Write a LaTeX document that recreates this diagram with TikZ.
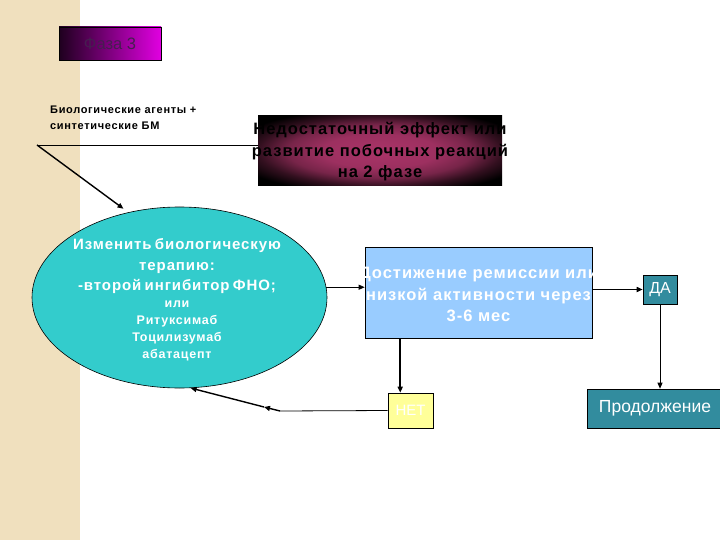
\documentclass[tikz,border=0pt]{standalone}
\usepackage{fontspec}
\setmainfont{Liberation Sans}
\newfontfamily\spaced[LetterSpace=6]{Liberation Sans}
\usetikzlibrary{arrows.meta,shapes.geometric}
\definecolor{beige}{RGB}{240,224,190}
\definecolor{fazatext}{RGB}{70,30,80}
\definecolor{fazaL}{RGB}{30,0,30}
\definecolor{fazaR}{RGB}{225,0,225}
\definecolor{nedin}{RGB}{170,52,104}
\definecolor{ellfill}{RGB}{51,204,204}
\definecolor{bluefill}{RGB}{153,204,255}
\definecolor{tealfill}{RGB}{50,140,158}
\definecolor{yelfill}{RGB}{255,255,153}
\pgfdeclareradialshading{nedshade}{\pgfpoint{0bp}{0bp}}{%
  color(0bp)=(nedin); color(12bp)=(nedin!92!black); color(19bp)=(nedin!70!black);
  color(25bp)=(nedin!30!black); color(31bp)=(black); color(50bp)=(black)}
\tikzset{
  conn/.style={draw=black, line width=0.8pt, -{Triangle[length=6pt,width=5pt]}},
  thickconn/.style={conn, line width=1.6pt},
  plain/.style={draw=black, line width=0.8pt},
  boxstyle/.style={draw=black, line width=0.6pt, inner sep=0pt},
  whitetxt/.style={text=white, font=\spaced\bfseries\fontsize{16.5}{21.5}\selectfont, align=center}
}
\begin{document}
\begin{tikzpicture}[x=1pt,y=-1pt]
\useasboundingbox (0,0) rectangle (720,540);
\fill[beige] (0,0) rectangle (80,540);

% Phase 3
\node[boxstyle, left color=fazaL, right color=fazaR, minimum width=102pt, minimum height=33pt,
      text=fazatext, font=\fontsize{16.5}{18}\selectfont] (faza) at (110,43.5) {Фаза 3};

% Bio text
\node[anchor=west, align=left, inner sep=0pt, font=\spaced\bfseries\fontsize{11}{16}\selectfont] (bio) at (50,118)
  {Биологические агенты +\\синтетические БМ};

% Insufficient effect box
\node[inner sep=0pt, shading=nedshade, minimum width=244pt, minimum height=70pt] (ned) at (380,151) {};
\node[align=center, font=\spaced\bfseries\fontsize{16.5}{21.5}\selectfont, text=black] (nedt) at (380,152)
  {Недостаточный эффект или\\развитие побочных реакций\\на 2 фазе};

% Ellipse
\node[ellipse, draw=black, line width=0.6pt, fill=ellfill, minimum width=295pt, minimum height=181pt, inner sep=0pt] (ell) at (179.5,297.5) {};
\node[text width=290pt, align=center, text=white, inner sep=0pt] (ellt) at (177,300)
  {\spaced\bfseries\fontsize{15}{20.5}\selectfont Изменить биологическую\\терапию:\\-второй ингибитор ФНО;\par
   \fontsize{12.5}{17}\selectfont или\\Ритуксимаб\\Тоцилизумаб\\абатацепт\par};

% Blue box
\node[boxstyle, fill=bluefill, minimum width=227pt, minimum height=91pt] (blue) at (478.5,292.5) {};
\node[whitetxt] (bluet) at (478.5,294.5) {Достижение ремиссии или\\низкой активности через\\3-6 мес};

% DA
\node[boxstyle, fill=tealfill, minimum width=34pt, minimum height=29pt, text=white, font=\fontsize{16}{18}\selectfont] (da) at (660,289.5) {ДА};

% Continue
\node[boxstyle, fill=tealfill, minimum width=136pt, minimum height=39pt, text=white, font=\fontsize{17.5}{20}\selectfont] (prod) at (655,408.5) {Продолжение};

% NET
\node[boxstyle, fill=yelfill, minimum width=45pt, minimum height=35pt, text=white, font=\fontsize{15}{18}\selectfont] (net) at (410.5,410.5) {НЕТ};

% connectors
\coordinate (c1) at (37,145);
\draw[plain] (c1) -- (c1 -| ned.west);
\draw[conn, line width=1.4pt, shorten >=6pt] (c1) -- (ell.121);

\draw[conn] (ell.4) -- (ell.4 -| blue.west);
\draw[thickconn] (blue.east |- da.west) -- (da.west);
\draw[conn] (da.south) -- (da.south |- prod.north);
\draw[thickconn] (net.120 |- blue.south) -- (net.120);

\coordinate (bend) at (280,411);
\coordinate (mid) at (264,407);
\draw[plain] (net.west) -- (bend);
\draw[conn, line width=1.4pt] (bend) -- (mid);
\draw[conn, line width=1.4pt] (mid) -- (ell.277);
\end{tikzpicture}
\end{document}
